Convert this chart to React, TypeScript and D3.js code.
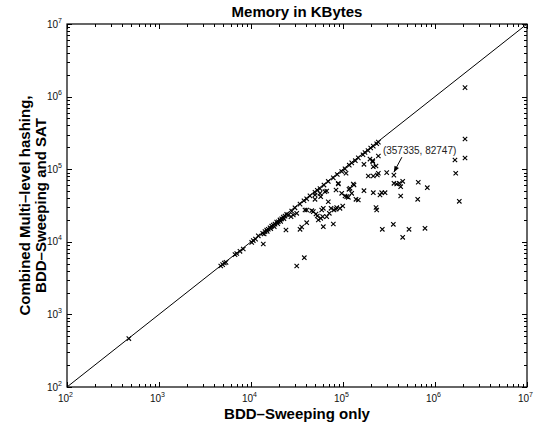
import React, { useEffect, useRef } from 'react';
import * as d3 from 'd3';

// memory (KBytes) for BDD-Sweeping only (x) vs combined flow (y)
const bddSweeping = [
  470, 4690, 4920, 5130, 5350, 6700, 7000, 7590, 8240, 10180, 10590, 11200, 12000, 13400, 13900,
  14190, 14820, 15000, 15420, 16100, 16400, 16800, 17480, 17900, 18230, 19020, 19500, 19820, 20660,
  21000, 21560, 22440, 22800, 23430, 24440, 25600, 27690, 30060, 34120, 37670, 40290, 43750, 49620,
  52570, 56230, 62130, 69180, 78500, 86700, 96800, 105200, 117000, 124400, 136100, 146700, 164900,
  173400, 187000, 200000, 213400, 232400, 242200,
  13600, 31400, 37960, 23990, 34120, 35580, 40290, 61090, 78500, 53950, 57250, 66520, 70990, 74130,
  79840, 85460, 99300, 40290, 47550, 50870, 69180, 27220, 28830, 31400, 38640, 45700, 52570, 60120,
  58660, 61090, 83930, 92720, 49620, 57250, 63700, 66520, 84000, 96800, 105200, 109700, 114200,
  88890, 107900, 116200, 129400, 138400, 146700, 124400, 131800, 169000, 213400, 228400, 232400,
  188400, 213400, 236000, 210300, 228400, 169000, 56230, 49620, 2120000, 2120000, 1648000, 2120000,
  1680000, 1837000, 657800, 824500, 648800, 778400, 521700, 445600, 352400, 267400, 357335, 298500,
  242200, 358300, 383600, 409200, 423700, 445600, 423700, 286300, 263500, 252500, 213400, 210300,
  196500, 242200, 88890, 119200
];
const combinedFlow = [
  465, 4640, 4850, 5100, 5200, 6650, 6900, 7400, 7950, 9800, 10400, 10900, 12100, 13100, 12800,
  13800, 14500, 13900, 14900, 15600, 15200, 16400, 17000, 16200, 17500, 18700, 17800, 18900, 20000,
  19100, 20700, 21900, 20800, 22600, 23800, 23500, 26500, 29400, 33000, 36800, 39000, 42900, 48000,
  51300, 54000, 60500, 67800, 76000, 84500, 93000, 101000, 113500, 122000, 131000, 143000, 158000,
  170000, 181000, 196000, 208000, 224000, 236000,
  9330, 4640, 6040, 14550, 14870, 15990, 18330, 16140, 17590, 19960, 21070, 22180, 24700, 28930,
  27420, 29510, 31120, 27420, 26000, 24150, 35650, 22180, 23390, 24700, 27420, 26820, 22660, 22180,
  27420, 28930, 28050, 28930, 38480, 41800, 48980, 50100, 51650, 46560, 42760, 41800, 41020,
  62550, 87890, 52840, 62550, 38480, 37670, 46560, 60580, 50560, 47470, 29680, 27420,
  80560, 80560, 83180, 126800, 110700, 116800, 46560, 44140, 1327000, 260600, 133900, 142600,
  87890, 36130, 66050, 55620, 38480, 15350, 14870, 11530, 17420, 14870, 82747, 89540,
  87890, 63970, 62550, 63970, 57420, 68130, 42760, 47470, 47470, 44140, 108200, 130900,
  138000, 152000, 63970, 54580
];
const exponents = [2, 3, 4, 5, 6, 7];
const annotated = { x: 357335, y: 82747 };

const W = 540;
const H = 424;
const margin = { left: 67, right: 13, top: 24, bottom: 37 };
const font = 'Liberation Sans, Arial, Helvetica, sans-serif';

const App = () => {
  const rootRef = useRef<SVGSVGElement>(null);

  useEffect(() => {
    const svg = d3.select(rootRef.current);
    svg.selectAll('*').remove();

    const x = d3.scaleLog().domain([1e2, 1e7]).range([margin.left, W - margin.right]);
    const y = d3.scaleLog().domain([1e2, 1e7]).range([H - margin.bottom, margin.top]);
    const [x0, x1] = x.range();
    const [y0, y1] = y.range();

    svg.append('rect').attr('width', W).attr('height', H).attr('fill', '#fff');

    // ticks, inward on all four sides
    const tickVals: { v: number; major: boolean }[] = [];
    for (let e = 2; e < 7; e++) {
      for (let m = 1; m < 10; m++) tickVals.push({ v: m * Math.pow(10, e), major: m === 1 });
    }
    tickVals.push({ v: 1e7, major: true });

    const ticks = svg.append('g').attr('stroke', '#000').attr('stroke-width', 1).attr('shape-rendering', 'crispEdges');
    tickVals.forEach(t => {
      const len = t.major ? 5 : 3;
      const px = Math.round(x(t.v)) + 0.5;
      const py = Math.round(y(t.v)) + 0.5;
      ticks.append('line').attr('x1', px).attr('x2', px).attr('y1', y0).attr('y2', y0 - len);
      ticks.append('line').attr('x1', px).attr('x2', px).attr('y1', y1).attr('y2', y1 + len);
      ticks.append('line').attr('x1', x0).attr('x2', x0 + len).attr('y1', py).attr('y2', py);
      ticks.append('line').attr('x1', x1).attr('x2', x1 - len).attr('y1', py).attr('y2', py);
    });

    // tick labels 10^n
    const labels = svg.append('g').attr('font-family', font).attr('fill', '#111');
    exponents.forEach(e => {
      const v = Math.pow(10, e);
      const px = x(v);
      labels.append('text').attr('x', px + 2).attr('y', y0 + 15).attr('text-anchor', 'end').attr('font-size', 10).text('10');
      labels.append('text').attr('x', px + 2).attr('y', y0 + 10).attr('font-size', 7).text(String(e));
      const py = y(v);
      labels.append('text').attr('x', x0 - 9).attr('y', py + 3.5).attr('text-anchor', 'end').attr('font-size', 10).text('10');
      labels.append('text').attr('x', x0 - 9).attr('y', py - 1.5).attr('font-size', 7).text(String(e));
    });

    // y = x reference line
    const line = d3.line<number>().x(d => x(d)).y(d => y(d));
    svg.append('path').attr('d', line([1e2, 1e7])).attr('fill', 'none').attr('stroke', '#000').attr('stroke-width', 1);

    // scatter marks
    const s = 2.2;
    svg.append('g')
      .selectAll('path')
      .data(d3.range(bddSweeping.length))
      .enter()
      .append('path')
      .attr('transform', i => `translate(${x(bddSweeping[i])},${y(combinedFlow[i])})`)
      .attr('d', `M${-s},${-s}L${s},${s}M${-s},${s}L${s},${-s}`)
      .attr('stroke', '#000')
      .attr('stroke-width', 1.1)
      .attr('fill', 'none');

    // box
    svg.append('rect')
      .attr('x', x0).attr('y', y1).attr('width', x1 - x0).attr('height', y0 - y1)
      .attr('fill', 'none').attr('stroke', '#000').attr('stroke-width', 1.2);

    // annotation with arrow
    const ax = x(annotated.x);
    const ay = y(annotated.y);
    svg.append('text')
      .attr('x', ax - 11).attr('y', ay - 21)
      .attr('font-family', font).attr('font-size', 10).attr('fill', '#222')
      .text(`(${annotated.x}, ${annotated.y})`);
    const sx = ax + 8, sy = ay - 18, ex = ax, ey = ay - 3;
    svg.append('line').attr('x1', sx).attr('y1', sy).attr('x2', ex).attr('y2', ey).attr('stroke', '#000').attr('stroke-width', 1);
    const ang = Math.atan2(ey - sy, ex - sx);
    const hl = 6, hw = 2.5;
    const bx = ex - hl * Math.cos(ang), by = ey - hl * Math.sin(ang);
    svg.append('path')
      .attr('d', `M${ex},${ey}L${bx + hw * Math.sin(ang)},${by - hw * Math.cos(ang)}L${bx - hw * Math.sin(ang)},${by + hw * Math.cos(ang)}Z`)
      .attr('fill', '#000');

    // title and axis labels
    const cx = (x0 + x1) / 2;
    svg.append('text').attr('x', cx).attr('y', 17).attr('text-anchor', 'middle')
      .attr('font-family', font).attr('font-weight', 'bold').attr('font-size', 15).text('Memory in KBytes');
    svg.append('text').attr('x', cx).attr('y', 419).attr('text-anchor', 'middle')
      .attr('font-family', font).attr('font-weight', 'bold').attr('font-size', 15).text('BDD–Sweeping only');
    const cy = (y0 + y1) / 2;
    const yl = svg.append('g').attr('font-family', font).attr('font-weight', 'bold').attr('font-size', 15).attr('text-anchor', 'middle');
    yl.append('text').attr('transform', `translate(30,${cy}) rotate(-90)`).text('Combined Multi–level hashing,');
    yl.append('text').attr('transform', `translate(46,${cy}) rotate(-90)`).text('BDD–Sweeping and SAT');
  }, []);

  return <svg ref={rootRef} width={W} height={H} style={{ position: 'absolute', left: 0, top: 0 }}></svg>;
};

export default App;
